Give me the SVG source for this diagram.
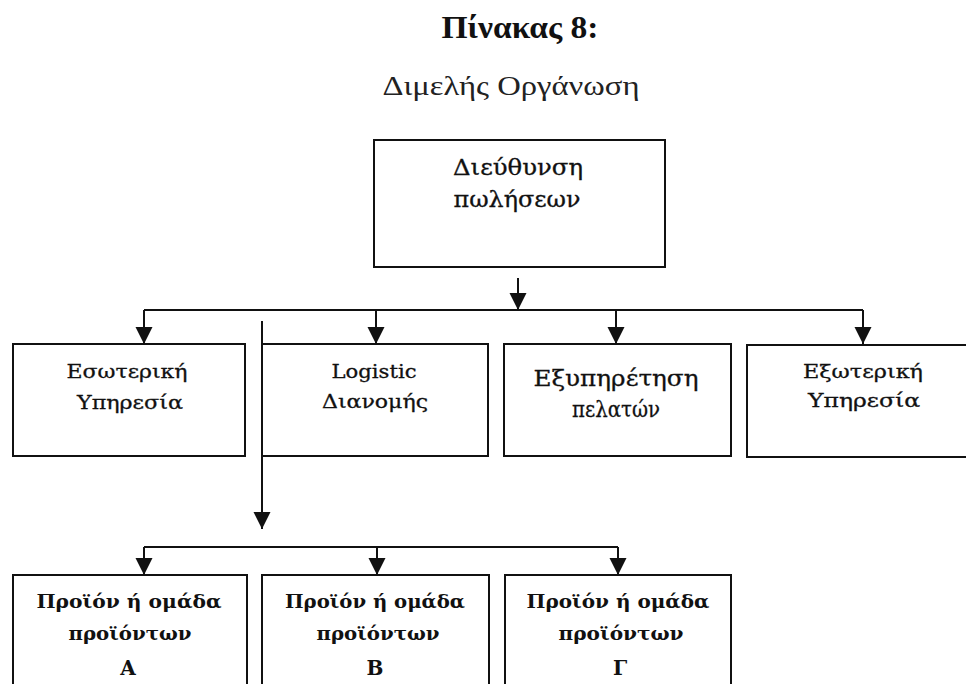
<svg xmlns="http://www.w3.org/2000/svg" width="966" height="684" viewBox="0 0 966 684">
  <style>
    .box { fill: #ffffff; stroke: #111111; stroke-width: 2; }
    .wire { fill: none; stroke: #111111; stroke-width: 2; }
    .arrow { fill: none; stroke: #111111; stroke-width: 2; marker-end: url(#head); }
    text { font-family: "DejaVu Serif", "Liberation Serif", serif; fill: #111111; text-anchor: middle; }
    .title { font-family: "Liberation Serif", "DejaVu Serif", serif; font-size: 31px; font-weight: bold; }
    .subtitle { font-family: "Liberation Serif", "DejaVu Serif", serif; font-size: 28px; fill: #222222; }
    .lbl { font-size: 19px; stroke: #111111; stroke-width: 0.3; }
    .lbl-lg { font-size: 22px; stroke: #111111; stroke-width: 0.3; }
    .lbl-xl { font-size: 23px; stroke: #111111; stroke-width: 0.3; }
    .lbl-b { font-size: 18px; font-weight: bold; }
    .mark { font-size: 20px; font-weight: bold; }
  </style>
  <defs>
    <marker id="head" markerUnits="userSpaceOnUse" markerWidth="18" markerHeight="18" refX="17" refY="8.5" orient="auto">
      <path d="M0,0 L17,8.5 L0,17 Z" fill="#111111"/>
    </marker>
  </defs>
  <rect width="966" height="684" fill="#ffffff"/>

  <!-- headings -->
  <text class="title" x="520" y="38" textLength="157" lengthAdjust="spacingAndGlyphs">Πίνακας 8:</text>
  <text class="subtitle" x="511" y="95" textLength="257" lengthAdjust="spacingAndGlyphs">Διμελής Οργάνωση</text>

  <!-- connectors -->
  <g id="connectors">
    <line class="arrow" x1="518" y1="278" x2="518" y2="310"/>
    <line class="wire" x1="144" y1="310" x2="863" y2="310"/>
    <line class="arrow" x1="144" y1="310" x2="144" y2="344"/>
    <line class="arrow" x1="376" y1="310" x2="376" y2="344"/>
    <line class="arrow" x1="616" y1="310" x2="616" y2="344"/>
    <line class="arrow" x1="863" y1="310" x2="863" y2="344"/>
    <line class="arrow" x1="262" y1="321" x2="262" y2="529"/>
    <line class="wire" x1="144" y1="547" x2="618" y2="547"/>
    <line class="arrow" x1="144" y1="547" x2="144" y2="575"/>
    <line class="arrow" x1="377" y1="547" x2="377" y2="575"/>
    <line class="arrow" x1="618" y1="547" x2="618" y2="575"/>
  </g>

  <!-- head office -->
  <g id="sales-management">
    <rect class="box" x="374" y="140" width="291" height="127"/>
    <text class="lbl-lg" x="518" y="175" textLength="130" lengthAdjust="spacingAndGlyphs">Διεύθυνση</text>
    <text class="lbl-lg" x="517" y="207" textLength="127" lengthAdjust="spacingAndGlyphs">πωλήσεων</text>
  </g>

  <!-- functional departments -->
  <g id="internal-service">
    <rect class="box" x="13" y="344" width="232" height="112"/>
    <text class="lbl" x="127" y="378" textLength="121" lengthAdjust="spacingAndGlyphs">Εσωτερική</text>
    <text class="lbl" x="130" y="409" textLength="106" lengthAdjust="spacingAndGlyphs">Υπηρεσία</text>
  </g>
  <g id="logistics">
    <rect class="box" x="262" y="344" width="226" height="112"/>
    <text class="lbl" x="374" y="378" textLength="85" lengthAdjust="spacingAndGlyphs">Logistic</text>
    <text class="lbl" x="375" y="408" textLength="106" lengthAdjust="spacingAndGlyphs">Διανομής</text>
  </g>
  <g id="customer-service">
    <rect class="box" x="504" y="344" width="227" height="112"/>
    <text class="lbl-xl" x="616" y="386" textLength="165" lengthAdjust="spacingAndGlyphs">Εξυπηρέτηση</text>
    <text class="lbl-xl" x="616" y="417" textLength="88" lengthAdjust="spacingAndGlyphs">πελατών</text>
  </g>
  <g id="external-service">
    <rect class="box" x="747" y="345" width="240" height="112"/>
    <text class="lbl" x="863" y="378" textLength="120" lengthAdjust="spacingAndGlyphs">Εξωτερική</text>
    <text class="lbl" x="864" y="407" textLength="112" lengthAdjust="spacingAndGlyphs">Υπηρεσία</text>
  </g>

  <!-- product groups -->
  <g id="product-a">
    <rect class="box" x="13" y="575" width="234" height="130"/>
    <text class="lbl-b" x="129" y="608" textLength="185" lengthAdjust="spacingAndGlyphs">Προϊόν ή ομάδα</text>
    <text class="lbl-b" x="130" y="640" textLength="123" lengthAdjust="spacingAndGlyphs">προϊόντων</text>
    <text class="mark" x="128" y="675">Α</text>
  </g>
  <g id="product-b">
    <rect class="box" x="262" y="575" width="227" height="130"/>
    <text class="lbl-b" x="375" y="608" textLength="180" lengthAdjust="spacingAndGlyphs">Προϊόν ή ομάδα</text>
    <text class="lbl-b" x="378" y="640" textLength="123" lengthAdjust="spacingAndGlyphs">προϊόντων</text>
    <text class="mark" x="375" y="675">Β</text>
  </g>
  <g id="product-c">
    <rect class="box" x="505" y="575" width="226" height="130"/>
    <text class="lbl-b" x="618" y="608" textLength="183" lengthAdjust="spacingAndGlyphs">Προϊόν ή ομάδα</text>
    <text class="lbl-b" x="621" y="640" textLength="125" lengthAdjust="spacingAndGlyphs">προϊόντων</text>
    <text class="mark" x="620" y="675">Γ</text>
  </g>
</svg>
